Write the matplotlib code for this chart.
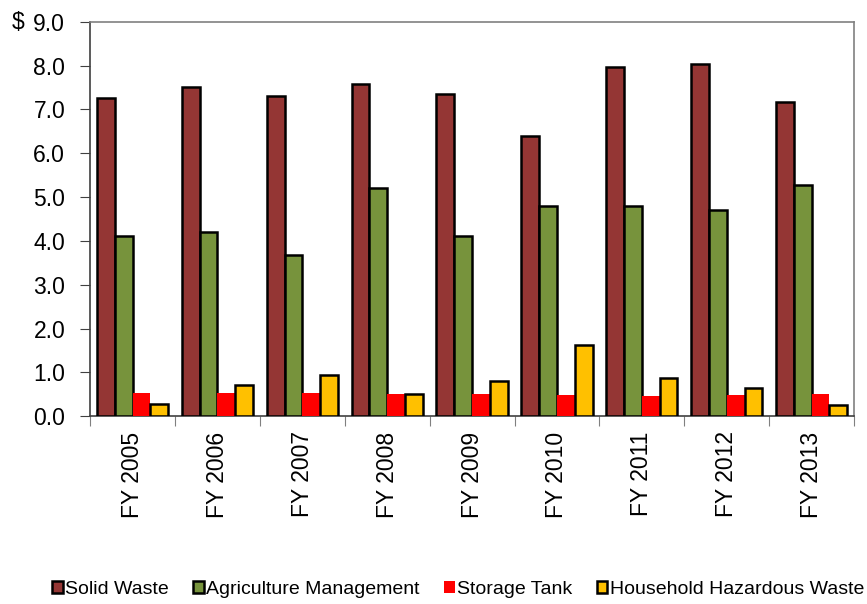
import matplotlib
matplotlib.use('Agg')
import matplotlib.pyplot as plt
import numpy as np

plt.rcParams['font.family'] = ['Liberation Sans', 'DejaVu Sans']

# datos
years = ['FY 2005', 'FY 2006', 'FY 2007', 'FY 2008', 'FY 2009',
         'FY 2010', 'FY 2011', 'FY 2012', 'FY 2013']
solid_waste = [7.25, 7.50, 7.30, 7.58, 7.35, 6.40, 7.97, 8.03, 7.18]
agriculture = [4.10, 4.20, 3.67, 5.20, 4.10, 4.80, 4.80, 4.70, 5.27]
storage_tank = [0.52, 0.52, 0.53, 0.50, 0.50, 0.48, 0.47, 0.48, 0.50]
household_hw = [0.28, 0.70, 0.95, 0.50, 0.80, 1.62, 0.87, 0.65, 0.25]

series = [
    ('Solid Waste', solid_waste, '#943634', 'black'),
    ('Agriculture Management', agriculture, '#77933C', 'black'),
    ('Storage Tank', storage_tank, '#FF0000', 'none'),
    ('Household Hazardous Waste', household_hw, '#FFC000', 'black'),
]

fig = plt.figure(figsize=(8.67, 6.04), dpi=100)
ax = fig.add_axes([0.104, 0.311, 0.881, 0.653])

x = np.arange(len(years))
w = 0.21
for i, (name, vals, color, edge) in enumerate(series):
    ax.bar(x - 1.5 * w + i * w, vals, w, color=color, edgecolor=edge,
           linewidth=1.8 if edge != 'none' else 0, label=name, zorder=3)

ax.set_xlim(-0.5, len(years) - 0.5)
ax.set_ylim(0, 9)
ax.set_yticks(np.arange(0, 9.1, 1.0))
ax.set_yticklabels([f'{v:.1f}' for v in np.arange(0, 9.1, 1.0)], fontsize=16.5)

# ticks del eje x entre categorías
ax.set_xticks(np.arange(-0.5, len(years), 1.0))
ax.set_xticklabels([])
ax.set_xticks(x, minor=True)
ax.set_xticklabels(years, minor=True, rotation=90, fontsize=16.5)
ax.tick_params(axis='x', which='minor', length=0, pad=11)
ax.tick_params(axis='x', which='major', length=7, color='#808080', direction='out')
ax.tick_params(axis='y', length=7, color='#404040', direction='out', pad=11)

for s in ['top', 'right']:
    ax.spines[s].set_color('#808080')
for s in ['left', 'bottom']:
    ax.spines[s].set_color('#404040')
for s in ax.spines.values():
    s.set_linewidth(1.2)

fig.text(0.014, 0.963, '$', fontsize=16.5, va='center', ha='left')

fig.legend(loc='center left', bbox_to_anchor=(0.06, 0.024), ncol=4, frameon=False,
           fontsize=14, handlelength=0.55, handleheight=0.55, handletextpad=0.12,
           columnspacing=1.25, borderaxespad=0, borderpad=0)

fig.savefig('out.png', dpi=100, facecolor='white')
